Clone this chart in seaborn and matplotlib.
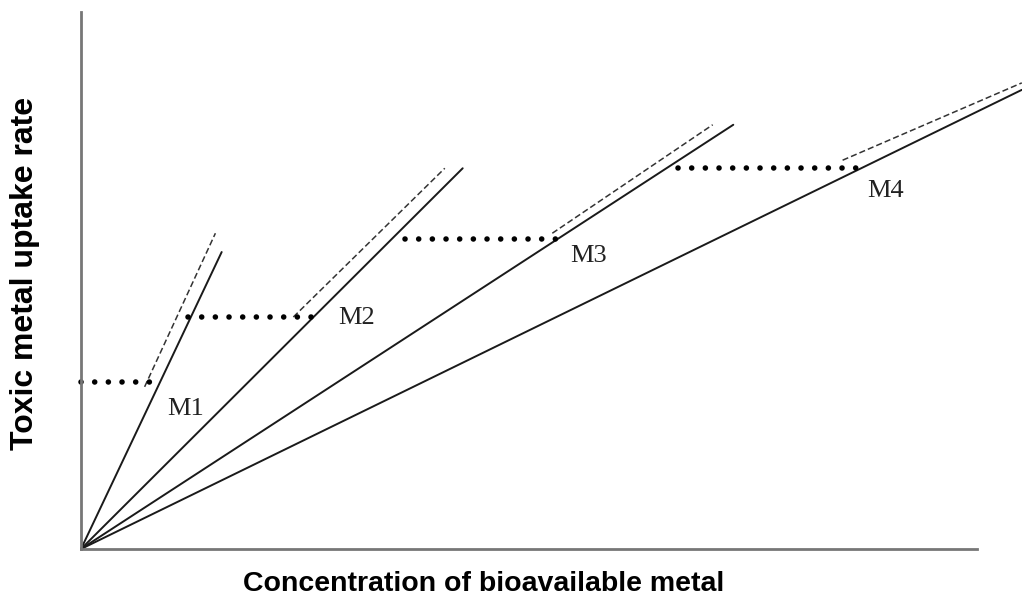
import matplotlib
matplotlib.use("Agg")
import matplotlib.pyplot as plt
import numpy as np
import pandas as pd
import seaborn as sns

# metal labels
metals = ["M1", "M2", "M3", "M4"]

# solid uptake lines: from origin to these end points (arbitrary units)
solid_x_end = [15.7, 42.6, 72.8, 105.0]
solid_y_end = [55.3, 70.9, 79.0, 85.5]

# dashed lines (start and end points)
dash_x0 = [7.1, 23.7, 52.6, 85.0]
dash_y0 = [30.2, 43.2, 58.8, 72.4]
dash_x1 = [15.0, 40.6, 70.5, 105.0]
dash_y1 = [58.8, 70.9, 79.0, 86.8]

# dotted horizontal thresholds
dot_y = [31.1, 43.2, 57.7, 70.9]
dot_x0 = [0.0, 11.9, 36.2, 66.6]
dot_x1 = [9.2, 26.1, 53.9, 86.9]

# label anchors (left, top)
lab_x = [9.6, 28.7, 54.6, 87.8]
lab_y = [28.2, 45.0, 56.7, 68.7]

sns.set_style("white")

fig = plt.figure(figsize=(10.22, 6.02), dpi=100)
W, H = 1022, 602
ax = fig.add_axes([81 / W, (H - 549) / H, (977 - 81) / W, (549 - 12) / H])

for i, m in enumerate(metals):
    solid = pd.DataFrame({"x": [0, solid_x_end[i]], "y": [0, solid_y_end[i]]})
    sns.lineplot(data=solid, x="x", y="y", ax=ax, color="#1a1a1a",
                 linewidth=1.4, clip_on=False, estimator=None, sort=False)
    dashed = pd.DataFrame({"x": [dash_x0[i], dash_x1[i]], "y": [dash_y0[i], dash_y1[i]]})
    sns.lineplot(data=dashed, x="x", y="y", ax=ax, color="#333333",
                 linewidth=1.1, clip_on=False, estimator=None,
                 sort=False, linestyle=(0, (4, 2)))
    dotted = pd.DataFrame({"x": [dot_x0[i], dot_x1[i]], "y": [dot_y[i], dot_y[i]]})
    sns.lineplot(data=dotted, x="x", y="y", ax=ax, color="#000000",
                 linewidth=4, estimator=None, sort=False, clip_on=False,
                 linestyle=(0, (0.01, 2.45)), dash_capstyle="round")
    ax.text(lab_x[i], lab_y[i], m, ha="left", va="top", fontsize=19,
            family="Liberation Serif", color="#222222")

ax.set_xlim(0, 100)
ax.set_ylim(0, 100)
ax.set_xticks([])
ax.set_yticks([])
ax.set_xlabel("")
ax.set_ylabel("")
for side in ["top", "right"]:
    ax.spines[side].set_visible(False)
for side in ["left", "bottom"]:
    ax.spines[side].set_color("#777777")
    ax.spines[side].set_linewidth(2)

fig.text(484 / W, 1 - 584 / H, "Concentration of bioavailable metal",
         ha="center", va="center", fontsize=20.5, fontweight="bold",
         family="Liberation Sans", color="black")
fig.text(25 / W, 1 - 273 / H, "Toxic metal uptake rate", ha="center",
         va="center", rotation=90, fontsize=23, fontweight="bold",
         family="Liberation Sans", color="black")

fig.savefig("out.png", dpi=100, facecolor="white")
